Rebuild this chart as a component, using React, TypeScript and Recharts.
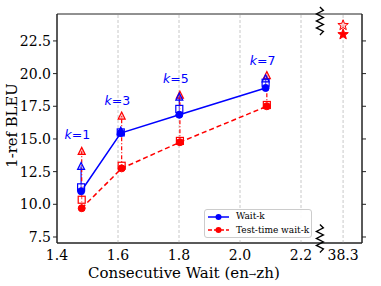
import React from 'react';
import {
  ComposedChart,
  Line,
  XAxis,
  YAxis,
  ReferenceLine,
  ReferenceDot,
  ReferenceArea,
  Legend,
} from 'recharts';

// ---- data ----
const waitkX = [1.479, 1.609, 1.801, 2.084];
const waitkBleu = [11.0, 15.45, 16.85, 18.9];
const waitkSquare = [11.3, 15.5, 17.3, 19.3];
const waitkTriangle = [12.9, 15.6, 18.2, 19.6];

const testX = [1.481, 1.612, 1.803, 2.088];
const testBleu = [9.7, 12.75, 14.75, 17.5];
const testSquare = [10.35, 12.95, 14.85, 17.6];
const testTriangle = [14.05, 16.75, 18.35, 19.85];

const kLabels = ['1', '3', '5', '7'];
const kLabelX = [1.467, 1.598, 1.79, 2.074];
const kLabelY = [15.4, 18.0, 19.68, 21.05];

const fullSentX = 2.338;
const fullSentFilled = 23.0;
const fullSentHollow = 23.7;

const xTicks = [1.4, 1.6, 1.8, 2.0, 2.2, 2.338];
const xTickLabels = ['1.4', '1.6', '1.8', '2.0', '2.2', '38.3'];
const gridX = [1.6, 1.8, 2.0, 2.2, 2.338];
const yTicks = [7.5, 10.0, 12.5, 15.0, 17.5, 20.0, 22.5];
const xDomain = [1.4, 2.4];
const yDomain = [7.04, 24.56];
const breakX = 2.262;
const breakY = [24.03, 7.39];

const xTitleParts = ['Consecutive Wait (en', '→', 'zh)'];
const yTitle = '1-ref BLEU';

const BLUE = '#0000ff';
const RED = '#ff0000';
const SERIF = 'DejaVu Serif';

const pts = (xs: number[], ys: number[]) => xs.map((x, i) => ({ x, y: ys[i] }));

const circleDot = (color: string) => (p: any) => (
  <circle key={`c-${p.index}`} cx={p.cx} cy={p.cy} r={3.5} fill={color} stroke={color} strokeWidth={1} />
);
const squareDot = (color: string) => (p: any) => (
  <rect key={`s-${p.index}`} x={p.cx - 3.5} y={p.cy - 3.5} width={7} height={7} fill="rgba(255,255,255,0.4)" stroke={color} strokeWidth={1.2} />
);
const triDot = (color: string, fill: string) => (p: any) => (
  <path
    key={`t-${p.index}`}
    d={`M${p.cx},${p.cy - 4} L${p.cx + 3.5},${p.cy + 3} L${p.cx - 3.5},${p.cy + 3} Z`}
    fill={fill}
    stroke={color}
    strokeWidth={1.2}
  />
);

const starPath = (cx: number, cy: number, R: number) => {
  const r = R * 0.42;
  let d = '';
  for (let i = 0; i < 10; i++) {
    const rad = i % 2 === 0 ? R : r;
    const a = -Math.PI / 2 + (i * Math.PI) / 5;
    d += `${i === 0 ? 'M' : 'L'}${cx + rad * Math.cos(a)},${cy + rad * Math.sin(a)} `;
  }
  return d + 'Z';
};

const zigzag = (p: any) => {
  const { cx, cy } = p;
  const n = 8;
  const h = 28;
  const pts2: string[] = [];
  for (let i = 0; i <= n; i++) {
    const x = cx + (i === 0 || i === n ? 0 : i % 2 === 1 ? 3.5 : -3.5);
    const y = cy - h / 2 + (i * h) / n;
    pts2.push(`${x},${y}`);
  }
  return <polyline points={pts2.join(' ')} fill="none" stroke="#000" strokeWidth={1.3} />;
};

const LegendBox = () => (
  <div
    style={{
      border: '1px solid #cccccc',
      borderRadius: 3,
      background: 'rgba(255,255,255,0.9)',
      width: 106,
      height: 27,
      fontFamily: SERIF,
      fontSize: 9,
      color: '#000',
      boxSizing: 'content-box',
    }}
  >
    {[
      { label: 'Wait-k', color: BLUE, dash: undefined },
      { label: 'Test-time wait-k', color: RED, dash: '4 2' },
    ].map((e, i) => (
      <div key={i} style={{ display: 'flex', alignItems: 'center', height: 13.5, lineHeight: '13.5px' }}>
        <svg width={26} height={10} style={{ marginLeft: 2, marginRight: 3 }}>
          <line x1={1} y1={5} x2={22} y2={5} stroke={e.color} strokeWidth={1.5} strokeDasharray={e.dash} />
          <circle cx={11.5} cy={5} r={3} fill={e.color} />
        </svg>
        <span>{e.label}</span>
      </div>
    ))}
  </div>
);

const XTitle = (props: any) => {
  const vb = props.viewBox || { x: 57, y: 243, width: 305, height: 43 };
  return (
    <text x={vb.x + 31} y={vb.y + vb.height - 8} textAnchor="start" fill="#000" fontFamily={SERIF} fontSize={15}>
      <tspan>{xTitleParts[0]}</tspan>
      <tspan fontSize={9} dy={-1}>{xTitleParts[1]}</tspan>
      <tspan dy={1}>{xTitleParts[2]}</tspan>
    </text>
  );
};

const YTitle = (props: any) => {
  const vb = props.viewBox || { x: 0, y: 14, width: 57, height: 229 };
  const cx = vb.x + 11;
  const cy = vb.y + vb.height / 2 - 3;
  return (
    <text
      x={cx}
      y={cy}
      transform={`rotate(-90 ${cx} ${cy})`}
      textAnchor="middle"
      dominantBaseline="central"
      fill="#000"
      fontFamily={SERIF}
      fontSize={14.8}
    >
      {yTitle}
    </text>
  );
};

export default function App() {
  return (
    <div style={{ position: 'absolute', left: 0, top: 0, width: 381, height: 286, background: '#fff' }}>
      <ComposedChart width={381} height={286} margin={{ top: 14, right: 14, bottom: 0, left: 0 }}>
        <XAxis
          dataKey="x"
          type="number"
          domain={xDomain}
          ticks={xTicks}
          allowDataOverflow
          tickFormatter={(v: number) => xTickLabels[xTicks.indexOf(v)] ?? String(v)}
          tickLine={false}
          tickSize={4}
          tickMargin={3}
          height={43}
          stroke="#222"
          tick={{ fill: '#000', fontFamily: SERIF, fontSize: 14 }}
          label={{ content: XTitle }}
        />
        <YAxis
          yAxisId="l"
          type="number"
          domain={yDomain}
          ticks={yTicks}
          allowDataOverflow
          width={57}
          tickSize={4}
          tickMargin={2}
          stroke="#222"
          tickFormatter={(v: number) => v.toFixed(1)}
          tick={{ fill: '#000', fontFamily: SERIF, fontSize: 14 }}
          label={{ content: YTitle }}
        />
        <YAxis
          yAxisId="r"
          orientation="right"
          type="number"
          domain={yDomain}
          ticks={yTicks}
          allowDataOverflow
          width={5}
          tickSize={4}
          stroke="#222"
          tickFormatter={() => ''}
        />

        {gridX.map((gx) => (
          <ReferenceLine key={gx} yAxisId="l" x={gx} stroke="#c8c8c8" strokeDasharray="3 2" strokeWidth={1} />
        ))}
        <ReferenceArea yAxisId="l" x1={xDomain[0]} x2={xDomain[1]} y1={yDomain[0]} y2={yDomain[1]} fill="none" stroke="#222" strokeWidth={1} />

        {waitkX.map((x, i) => (
          <Line
            key={`vb${i}`}
            yAxisId="l"
            data={[{ x, y: waitkBleu[i] }, { x, y: waitkTriangle[i] }]}
            dataKey="y"
            stroke={BLUE}
            strokeWidth={1.2}
            dot={false}
            activeDot={false}
            isAnimationActive={false}
            legendType="none"
          />
        ))}
        {testX.map((x, i) => (
          <Line
            key={`vr${i}`}
            yAxisId="l"
            data={[{ x, y: testBleu[i] }, { x, y: testTriangle[i] }]}
            dataKey="y"
            stroke={RED}
            strokeWidth={1.2}
            strokeDasharray="4 2 1 2"
            dot={false}
            activeDot={false}
            isAnimationActive={false}
            legendType="none"
          />
        ))}

        <Line yAxisId="l" data={pts(testX, testSquare)} dataKey="y" stroke="none" dot={squareDot(RED)} activeDot={false} isAnimationActive={false} legendType="none" />
        <Line yAxisId="l" data={pts(testX, testTriangle)} dataKey="y" stroke="none" dot={triDot(RED, 'rgba(255,0,0,0.25)')} activeDot={false} isAnimationActive={false} legendType="none" />
        <Line
          yAxisId="l"
          name="Test-time wait-k"
          data={pts(testX, testBleu)}
          dataKey="y"
          stroke={RED}
          strokeWidth={1.5}
          strokeDasharray="5 3"
          dot={circleDot(RED)}
          activeDot={false}
          isAnimationActive={false}
        />
        <Line yAxisId="l" data={pts(waitkX, waitkSquare)} dataKey="y" stroke="none" dot={squareDot(BLUE)} activeDot={false} isAnimationActive={false} legendType="none" />
        <Line yAxisId="l" data={pts(waitkX, waitkTriangle)} dataKey="y" stroke="none" dot={triDot(BLUE, 'rgba(0,0,255,0.2)')} activeDot={false} isAnimationActive={false} legendType="none" />
        <Line
          yAxisId="l"
          name="Wait-k"
          data={pts(waitkX, waitkBleu)}
          dataKey="y"
          stroke={BLUE}
          strokeWidth={1.5}
          dot={circleDot(BLUE)}
          activeDot={false}
          isAnimationActive={false}
        />

        <ReferenceDot
          yAxisId="l"
          x={fullSentX}
          y={fullSentHollow}
          shape={(p: any) => <path d={starPath(p.cx, p.cy, 5.5)} fill="rgba(255,0,0,0.2)" stroke={RED} strokeWidth={1} />}
        />
        <ReferenceDot
          yAxisId="l"
          x={fullSentX}
          y={fullSentFilled}
          shape={(p: any) => <path d={starPath(p.cx, p.cy, 5.5)} fill={RED} stroke={RED} strokeWidth={1} />}
        />

        {kLabels.map((k, i) => (
          <ReferenceDot
            key={`k${k}`}
            yAxisId="l"
            x={kLabelX[i]}
            y={kLabelY[i]}
            shape={(p: any) => (
              <text x={p.cx} y={p.cy} textAnchor="middle" dominantBaseline="central" fill={BLUE} fontFamily="DejaVu Sans" fontSize={12.5}>
                <tspan fontStyle="italic">k</tspan>
                <tspan>={k}</tspan>
              </text>
            )}
          />
        ))}

        {breakY.map((by, i) => (
          <ReferenceDot key={`br${i}`} yAxisId="l" x={breakX} y={by} ifOverflow="visible" shape={zigzag} />
        ))}

        <Legend
          layout="vertical"
          align="center"
          verticalAlign="middle"
          content={() => <LegendBox />}
          wrapperStyle={{ position: 'absolute', left: 204, top: 209, width: 108, height: 29, margin: 0 }}
        />
      </ComposedChart>
    </div>
  );
}
